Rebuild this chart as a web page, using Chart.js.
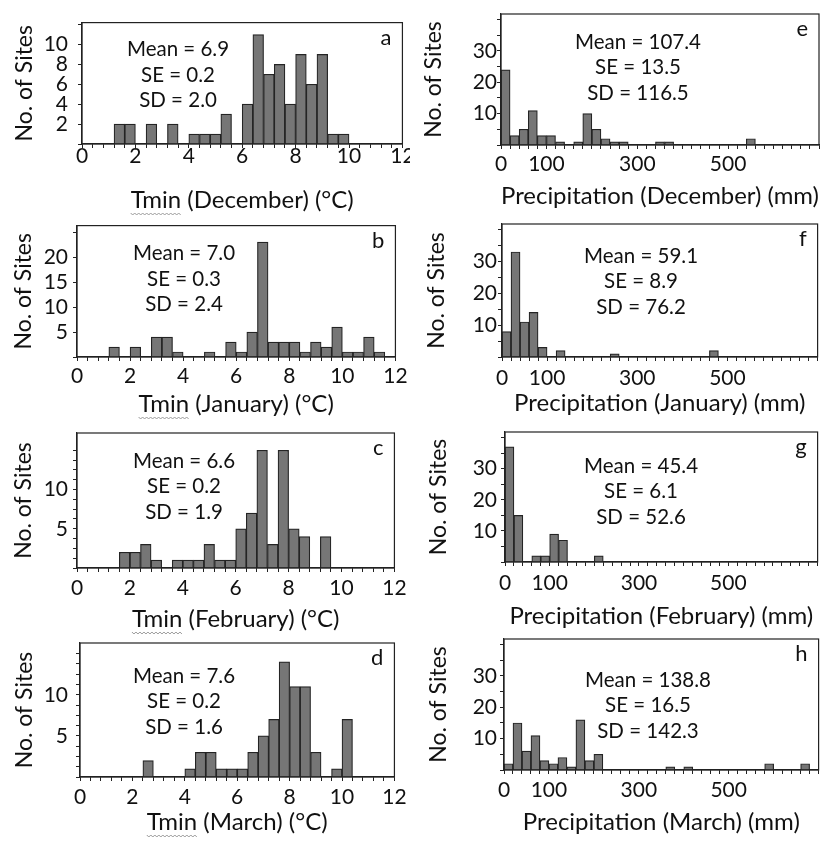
<!DOCTYPE html>
<html>
<head>
<meta charset="utf-8">
<title>Tmin and precipitation histograms</title>
<script src="https://cdn.jsdelivr.net/npm/chart.js@4.4.0/dist/chart.umd.min.js"></script>
<style>
  html, body { margin: 0; padding: 0; background: #fff; overflow: hidden; }
  #page { position: relative; width: 822px; height: 841px; }
  #page canvas { position: absolute; }
</style>
</head>
<body>
<div id="page"></div>
<script>
// Bin widths (histogram bins start at 0)
const tminBinWidth = 0.4;
const precipBinWidth = 20;

// No. of sites per Tmin bin (0-0.4, 0.4-0.8, ...)
const tminDec = [0,0,0,2,2,0,2,0,2,0,1,1,1,3,0,4,11,7,8,4,9,6,9,1,1];
const tminJan = [0,0,0,2,0,2,0,4,4,1,0,0,1,0,3,1,5,23,3,3,3,1,3,2,6,1,1,4,1];
const tminFeb = [0,0,0,0,2,2,3,1,0,1,1,1,3,1,1,5,7,15,3,15,5,4,0,4];
const tminMar = [0,0,0,0,0,0,2,0,0,0,1,3,3,1,1,1,3,5,7,14,11,11,3,0,1,7];

// No. of sites per precipitation bin (0-20, 20-40, ...)
const precipDec = [24,3,5,11,3,3,1,0,1,10,5,2,1,1,0,0,0,1,1,0,0,0,0,0,0,0,0,2];
const precipJan = [8,33,11,14,3,0,2,0,0,0,0,0,1,0,0,0,0,0,0,0,0,0,0,2];
const precipFeb = [37,15,0,2,2,9,7,0,0,0,2];
const precipMar = [2,15,6,11,3,2,4,1,16,3,5,0,0,0,0,0,0,0,1,0,1,0,0,0,0,0,0,0,0,2,0,0,0,2];

// Summary statistics (Dec, Jan, Feb, Mar)
const tminMean = ['6.9', '7.0', '6.6', '7.6'];
const tminSE = ['0.2', '0.3', '0.2', '0.2'];
const tminSD = ['2.0', '2.4', '1.9', '1.6'];
const precipMean = ['107.4', '59.1', '45.4', '138.8'];
const precipSE = ['13.5', '8.9', '6.1', '16.5'];
const precipSD = ['116.5', '76.2', '52.6', '142.3'];

// Tick labels
const tminTickLabels = [0, 2, 4, 6, 8, 10, 12];
const precipTickLabels = [0, 100, 300, 500];
const countLabelsDec = [2, 4, 6, 8, 10];
const countLabelsJan = [5, 10, 15, 20];
const countLabelsFebMar = [5, 10];
const precipCountLabels = [10, 20, 30];

const months = ['December', 'January', 'February', 'March'];
const tminSets = [tminDec, tminJan, tminFeb, tminMar];
const precipSets = [precipDec, precipJan, precipFeb, precipMar];

const FONT = "Lato, 'Open Sans', sans-serif";
Chart.defaults.font.family = FONT;
Chart.defaults.color = '#111';

// page layout
const colX = [0, 410], colW = [410, 412];
const rowY = [0, 208, 414, 620], rowH = [228, 228, 228, 221];

const tminLayout = [
    { area: [82, 13, 404, 144], xTickY: 156, xTitleY: 200, yTitleX: 25, stats: [96, 27], yMax: 12.2, yStep: 2, yEnd: 12, yLabels: countLabelsDec },
    { area: [77, 224, 403, 357], xTickY: 376, xTitleY: 404, yTitleX: 24, stats: [107, 28], yMax: 26.3, yStep: 5, yEnd: 25, yLabels: countLabelsJan },
    { area: [77, 433, 403, 568], xTickY: 588, xTitleY: 619, yTitleX: 24, stats: [107, 28], yMax: 17.2, yStep: 1.25, yEnd: 15, yLabels: countLabelsFebMar },
    { area: [80, 643, 400, 777], xTickY: 797, xTitleY: 822, yTitleX: 25, stats: [104, 33], yMax: 16.3, yStep: 1.25, yEnd: 15, yLabels: countLabelsFebMar }
];
const precipLayout = [
    { area: [501, 14, 819, 145], xTickY: 164, xTitleY: 196, yTitleX: 434, stats: [137, 28] },
    { area: [502, 224, 820, 357], xTickY: 378, xTitleY: 403, yTitleX: 437, stats: [139, 32] },
    { area: [505, 432, 819, 562], xTickY: 583, xTitleY: 616, yTitleX: 439, stats: [136, 34] },
    { area: [504, 639, 819, 770], xTickY: 790, xTitleY: 822, yTitleX: 439, stats: [144, 41] }
];

const TICK_LEN = 4;
const TICK_FONT = 21, X_TITLE_FONT = 24, Y_TITLE_FONT = 23, STATS_FONT = 20.5, LETTER_FONT = 22;
const LINE_H = 1.2;

function stepValues(end, step) {
    const out = [];
    const n = Math.round(end / step);
    for (let i = 0; i <= n; i++) out.push(+(i * step).toFixed(4));
    return out;
}

function hasLabel(labels, v) {
    return labels.some(l => Math.abs(l - v) < 1e-6);
}

// box around the plotting area, stats text, panel letter, spell-check squiggle
const panelText = {
    id: 'panelText',
    afterDraw(chart, args, opts) {
        const { ctx, chartArea: ca } = chart;
        ctx.save();
        ctx.strokeStyle = '#222';
        ctx.lineWidth = 1.2;
        ctx.strokeRect(ca.left, ca.top, ca.right - ca.left, ca.bottom - ca.top);

        ctx.fillStyle = '#111';
        ctx.textAlign = 'center';
        ctx.textBaseline = 'middle';
        ctx.font = STATS_FONT + 'px ' + FONT;
        opts.lines.forEach((t, i) => {
            ctx.fillText(t, ca.left + opts.at[0], ca.top + opts.at[1] + i * 25.5);
        });

        ctx.textAlign = 'right';
        ctx.font = LETTER_FONT + 'px ' + FONT;
        ctx.fillText(opts.letter, ca.right - 11, ca.top + 15);

        if (opts.squiggle) {
            ctx.font = X_TITLE_FONT + 'px ' + FONT;
            const full = ctx.measureText(opts.title).width;
            const word = ctx.measureText(opts.squiggle).width;
            const x0 = (ca.left + ca.right) / 2 - full / 2;
            const y0 = opts.titleY + 13;
            ctx.strokeStyle = '#9a9a9a';
            ctx.lineWidth = 1;
            ctx.beginPath();
            for (let x = 0; x <= word; x += 2) {
                const y = y0 + ((x / 2) % 2 === 0 ? 0 : 2);
                if (x === 0) ctx.moveTo(x0 + x, y); else ctx.lineTo(x0 + x, y);
            }
            ctx.stroke();
        }
        ctx.restore();
    }
};

function makePanel(col, row, cfg) {
    const cx = colX[col], cy = rowY[row], cw = colW[col], ch = rowH[row];
    const [L, T, R, B] = cfg.area;

    const canvas = document.createElement('canvas');
    canvas.width = cw;
    canvas.height = ch;
    canvas.style.left = cx + 'px';
    canvas.style.top = cy + 'px';
    document.getElementById('page').appendChild(canvas);

    const points = cfg.counts.map((c, i) => ({ x: (i + 0.5) * cfg.binWidth, y: c }));

    new Chart(canvas, {
        type: 'bar',
        data: {
            datasets: [{
                data: points,
                backgroundColor: '#767676',
                borderColor: '#242424',
                borderWidth: 1.2,
                barPercentage: 1,
                categoryPercentage: 1
            }]
        },
        options: {
            responsive: false,
            animation: false,
            events: [],
            layout: { padding: { top: T - cy, right: cx + cw - R, left: 0, bottom: 0 } },
            plugins: {
                legend: { display: false },
                tooltip: { enabled: false },
                panelText: {
                    lines: cfg.lines, at: cfg.stats, letter: cfg.letter,
                    title: cfg.title, squiggle: cfg.squiggle, titleY: cfg.xTitleY - cy
                }
            },
            scales: {
                x: {
                    type: 'linear',
                    min: 0,
                    max: cfg.xMax,
                    offset: false,
                    grid: { offset: false, drawOnChartArea: false, tickLength: TICK_LEN, tickColor: '#222' },
                    border: { color: '#222', width: 1.2 },
                    afterBuildTicks: s => { s.ticks = stepValues(cfg.xMax, cfg.xStep).map(v => ({ value: v })); },
                    afterFit: s => { s.height = cy + ch - B; },
                    ticks: {
                        autoSkip: false,
                        maxRotation: 0,
                        font: { size: TICK_FONT },
                        padding: (cfg.xTickY - B) - TICK_LEN - TICK_FONT * LINE_H / 2,
                        callback: v => hasLabel(cfg.xLabels, v) ? String(Math.round(v)) : ''
                    },
                    title: {
                        display: true,
                        text: cfg.title,
                        font: { size: X_TITLE_FONT, lineHeight: LINE_H },
                        padding: { top: 0, bottom: (cy + ch) - cfg.xTitleY - X_TITLE_FONT * LINE_H / 2 }
                    }
                },
                y: {
                    min: 0,
                    max: cfg.yMax,
                    grid: { drawOnChartArea: false, tickLength: TICK_LEN, tickColor: '#222' },
                    border: { color: '#222', width: 1.2 },
                    afterBuildTicks: s => { s.ticks = stepValues(cfg.yEnd, cfg.yStep).map(v => ({ value: v })); },
                    afterFit: s => { s.width = L - cx; },
                    ticks: {
                        autoSkip: false,
                        font: { size: TICK_FONT },
                        padding: L - cfg.labelRight - TICK_LEN,
                        callback: v => hasLabel(cfg.yLabels, v) ? String(Math.round(v)) : ''
                    },
                    title: {
                        display: true,
                        text: 'No. of Sites',
                        font: { size: Y_TITLE_FONT, lineHeight: LINE_H },
                        padding: { top: cfg.yTitleX - cx - Y_TITLE_FONT * LINE_H / 2, bottom: 0 }
                    }
                }
            }
        },
        plugins: [panelText]
    });
}

months.forEach((m, i) => {
    const t = tminLayout[i];
    makePanel(0, i, Object.assign({}, t, {
        counts: tminSets[i],
        binWidth: tminBinWidth,
        xMax: 12, xStep: tminBinWidth, xLabels: tminTickLabels,
        labelRight: 68,
        title: 'Tmin (' + m + ') (°C)',
        squiggle: 'Tmin',
        lines: ['Mean = ' + tminMean[i], 'SE = ' + tminSE[i], 'SD = ' + tminSD[i]],
        letter: 'abcd'[i]
    }));

    const p = precipLayout[i];
    makePanel(1, i, Object.assign({}, p, {
        counts: precipSets[i],
        binWidth: precipBinWidth,
        xMax: 700, xStep: precipBinWidth, xLabels: precipTickLabels,
        yMax: 41.8, yStep: 5, yEnd: 40, yLabels: precipCountLabels,
        labelRight: 497,
        title: 'Precipitation (' + m + ') (mm)',
        lines: ['Mean = ' + precipMean[i], 'SE = ' + precipSE[i], 'SD = ' + precipSD[i]],
        letter: 'efgh'[i]
    }));
});
</script>
</body>
</html>
